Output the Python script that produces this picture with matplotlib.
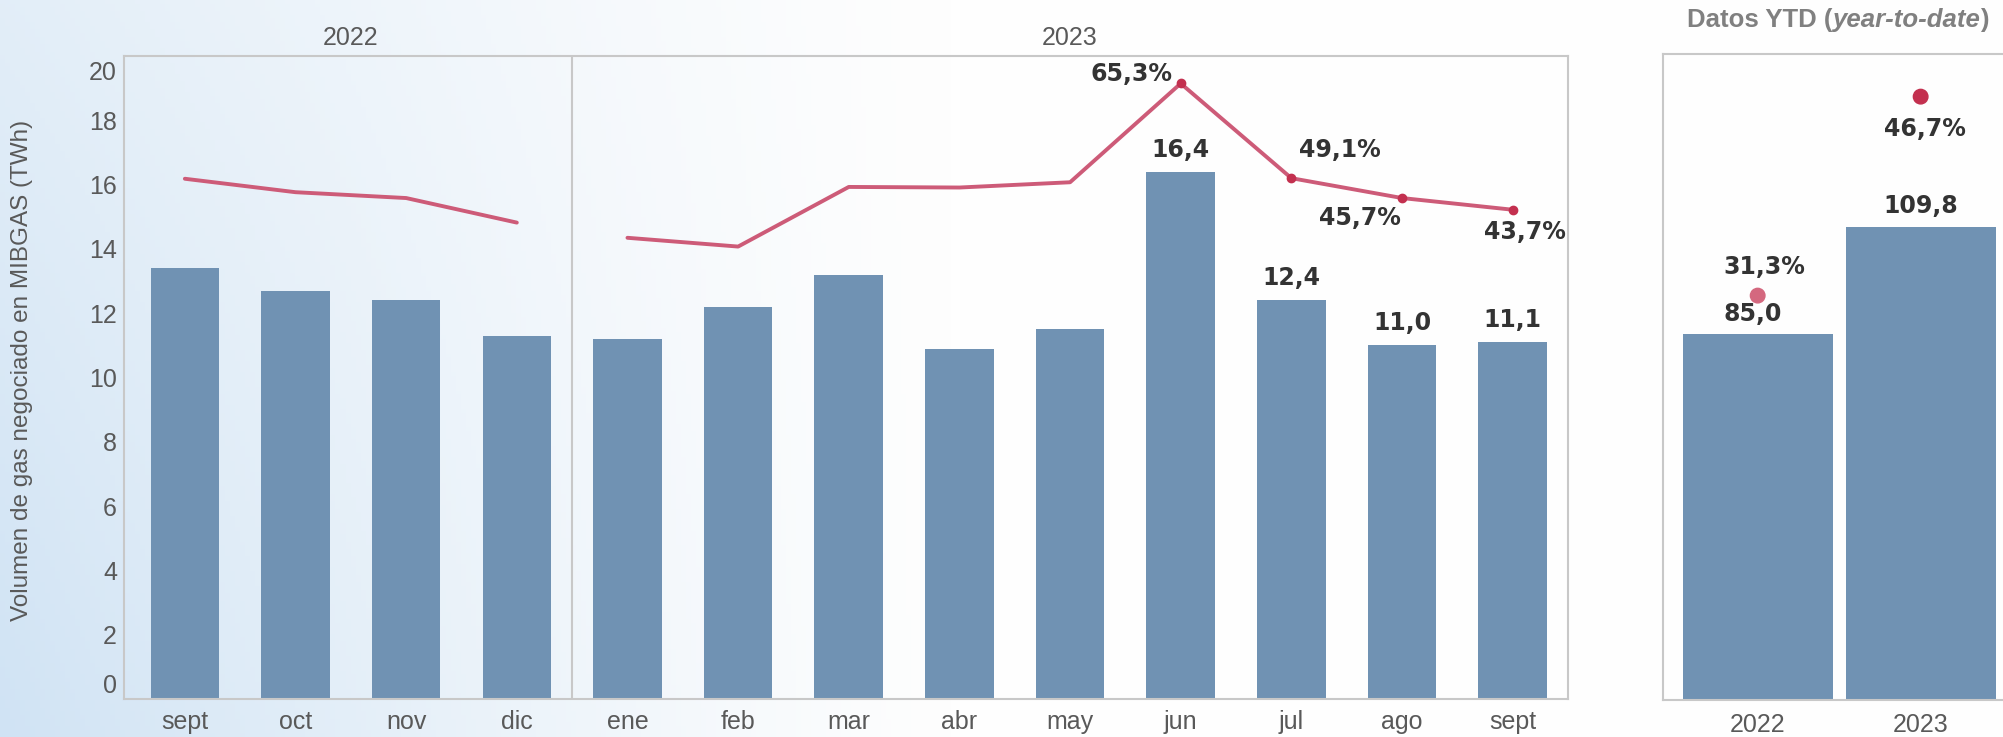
import numpy as np
import matplotlib.pyplot as plt
from matplotlib.transforms import ScaledTranslation, blended_transform_factory

# monthly data, sept 2022 -> sept 2023
meses = ['sept', 'oct', 'nov', 'dic', 'ene', 'feb', 'mar', 'abr', 'may',
         'jun', 'jul', 'ago', 'sept']
volumen = [13.4, 12.7, 12.4, 11.3, 11.2, 12.2, 13.2, 10.9, 11.5,
           16.4, 12.4, 11.0, 11.1]
cuota = [49.0, 46.7, 45.7, 41.5, 38.9, 37.4, 47.6, 47.5, 48.4,
         65.3, 49.1, 45.7, 43.7]
anios = ['2022', '2023']
n_2022 = 4

# year-to-date data
ytd_anios = ['2022', '2023']
ytd_volumen = [85.0, 109.8]
ytd_cuota = [31.3, 46.7]

plt.rcParams['font.family'] = ['Liberation Sans', 'DejaVu Sans']

BAR = '#7092b3'
LINE = '#cd5b78'
DOT = '#c3304f'
GRID = '#c8c8c8'
TXT = '#595959'
LAB = '#333333'

W, H = 2003, 737
fig = plt.figure(figsize=(W / 100, H / 100), dpi=100)

# background gradient (light blue on the left fading to white)
bg = fig.add_axes([0, 0, 1, 1], zorder=-10)
xx = np.linspace(0, 1, 400)[None, :]
yy = np.linspace(0, 1, 200)[:, None]
wgt = np.clip(1 - xx * W / 950, 0, 1) ** 1.2 * (0.6 + 0.4 * yy)
base = np.array([208, 227, 244]) / 255
white = np.array([254, 254, 254]) / 255
img = white - wgt[..., None] * (white - base)
bg.imshow(img, aspect='auto', extent=[0, 1, 0, 1])
bg.axis('off')

def fmt(v, pct=False):
    s = f'{v:.1f}'.replace('.', ',')
    return s + '%' if pct else s

# ---- main monthly chart
ax = fig.add_axes([124 / W, 38 / H, 1444 / W, 643 / H])
ax.set_facecolor('none')
x = np.arange(len(meses))
ax.bar(x, volumen, width=0.62, color=BAR, zorder=2)
ax.set_xlim(-0.55, 12.5)
ax.set_ylim(0, 20)
ax.set_xticks(x, meses)
ax.set_yticks(range(0, 21, 2))
ax.tick_params(length=0, labelsize=18, labelcolor=TXT)
ax.tick_params(axis='x', pad=8)
ax.tick_params(axis='y', pad=5)
for s in ax.spines.values():
    s.set_color(GRID)
    s.set_linewidth(1.5)
ax.axvline(n_2022 - 0.5, color=GRID, lw=1.5)

# the first and last y labels sit a bit inside the frame
yt = ax.yaxis.get_major_ticks()
yt[0].label1.set_transform(yt[0].label1.get_transform()
                           + ScaledTranslation(0, 0.155, fig.dpi_scale_trans))
yt[-1].label1.set_transform(yt[-1].label1.get_transform()
                            + ScaledTranslation(0, -0.15, fig.dpi_scale_trans))

trans = blended_transform_factory(ax.transData, ax.transAxes)
ax.text((n_2022 - 1) / 2, 1.028, anios[0], transform=trans, ha='center',
        va='center', fontsize=18, color=TXT)
ax.text((n_2022 + len(meses) - 1) / 2, 1.028, anios[1], transform=trans,
        ha='center', va='center', fontsize=18, color=TXT)

fig.text(22 / W, 0.498, 'Volumen de gas negociado en MIBGAS (TWh)',
         rotation=90, ha='center', va='center', fontsize=17.5, color=TXT)

ax2 = ax.twinx()
ax2.set_ylim(-40, 70)
ax2.set_axis_off()
ax2.plot(x[:n_2022], cuota[:n_2022], color=LINE, lw=2.8,
         solid_capstyle='round')
ax2.plot(x[n_2022:], cuota[n_2022:], color=LINE, lw=2.8,
         solid_capstyle='round')
ax2.plot(x[9:], cuota[9:], 'o', ms=6, color=DOT)

lab_font = dict(fontsize=17, fontweight='bold', family='DejaVu Sans',
                color=LAB, ha='center', va='center')
pct_offsets = [(-49, 9), (49, 28), (-42, -20), (12, -22)]
for k, i in enumerate(range(9, len(meses))):
    ax2.annotate(fmt(volumen[i]), xy=(x[i], volumen[i]), xycoords=ax.transData,
                 xytext=(0, 22), textcoords='offset pixels', **lab_font)
    ax2.annotate(fmt(cuota[i], True), xy=(x[i], cuota[i]),
                 xytext=pct_offsets[k], textcoords='offset pixels', **lab_font)

# ---- YTD panel
ay = fig.add_axes([1663 / W, 37 / H, 345 / W, 646 / H])
ay.set_facecolor('none')
xy = np.arange(len(ytd_anios))
ay.bar(xy, ytd_volumen, width=0.92, color=BAR, zorder=2)
ay.set_xlim(-0.581, 1.536)
ay.set_ylim(0, 150)
ay.set_xticks(xy, ytd_anios)
ay.set_yticks([])
ay.tick_params(length=0, labelsize=18, labelcolor=TXT, pad=9)
for s in ay.spines.values():
    s.set_color(GRID)
    s.set_linewidth(1.5)
ay.spines['right'].set_visible(False)

ay2 = ay.twinx()
ay2.set_ylim(0, 50)
ay2.set_axis_off()
ay2.scatter(xy, ytd_cuota, s=110, color=['#d4687f', DOT], zorder=3)
ytd_vol_off = [(-5, 20), (0, 21)]
ytd_pct_off = [(7, 29), (4, -32)]
for i in range(len(ytd_anios)):
    ay2.annotate(fmt(ytd_volumen[i]), xy=(xy[i], ytd_volumen[i]),
                 xycoords=ay.transData, xytext=ytd_vol_off[i],
                 textcoords='offset pixels', **lab_font)
    ay2.annotate(fmt(ytd_cuota[i], True), xy=(xy[i], ytd_cuota[i]),
                 xytext=ytd_pct_off[i], textcoords='offset pixels', **lab_font)

# title "Datos YTD (year-to-date)" with italic part
tfont = dict(fontsize=18.5, fontweight='bold', color='#808080')
t1 = fig.text(1687 / W, 1 - 20 / H, 'Datos YTD (', ha='left', va='center',
              **tfont)
t2 = ay.annotate('year-to-date', xy=(1, 0), xycoords=t1, ha='left',
                 va='bottom', style='italic', annotation_clip=False, **tfont)
ay.annotate(')', xy=(1, 0), xycoords=t2, ha='left', va='bottom',
            annotation_clip=False, **tfont)

fig.savefig('out.png', dpi=100)
